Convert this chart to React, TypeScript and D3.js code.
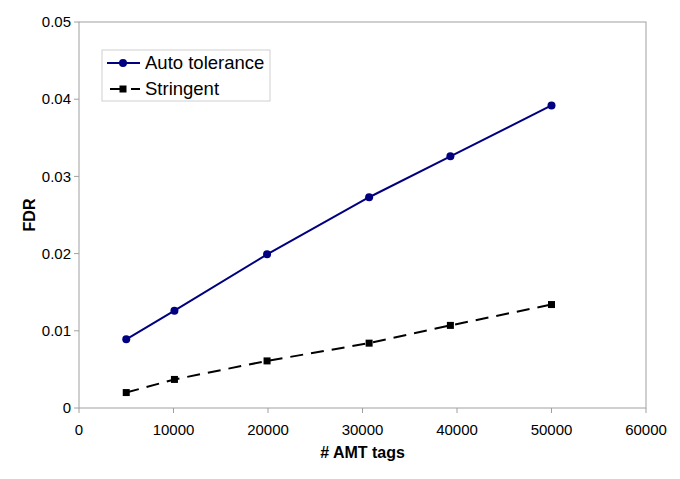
import React from 'react';
import { scaleLinear, line } from 'd3';

const xTicks = [0, 10000, 20000, 30000, 40000, 50000, 60000];
const yTicks = [0, 0.01, 0.02, 0.03, 0.04, 0.05];

const tags = [5000, 10100, 19900, 30700, 39300, 50000];
const autoTolerance = [0.0089, 0.0126, 0.0199, 0.0273, 0.0326, 0.0392];
const stringent = [0.002, 0.0037, 0.0061, 0.0084, 0.0107, 0.0134];

const width = 680;
const height = 479;
const margin = { top: 22, right: 34, bottom: 71, left: 79 };

export default function App() {
  const x = scaleLinear()
    .domain([0, 60000])
    .range([margin.left, width - margin.right]);
  const y = scaleLinear()
    .domain([0, 0.05])
    .range([height - margin.bottom, margin.top]);

  const path = line<number>()
    .x((d, i) => x(tags[i]))
    .y((d) => y(d));

  const font = 'Arial, "Liberation Sans", sans-serif';
  const bottom = height - margin.bottom;

  return (
    <svg
      width={width}
      height={height}
      style={{ position: 'absolute', left: 0, top: 0, background: '#fff' }}
      fontFamily={font}
    >
      <rect
        x={margin.left}
        y={margin.top}
        width={x(60000) - margin.left}
        height={bottom - margin.top}
        fill="none"
        stroke="#a0a0a0"
      />
      {yTicks.map((t) => (
        <g key={t}>
          <line x1={margin.left - 5} x2={margin.left} y1={y(t)} y2={y(t)} stroke="#a0a0a0" />
          <text x={margin.left - 8} y={y(t)} dy="0.35em" textAnchor="end" fontSize={15}>
            {t === 0 ? '0' : t.toFixed(2)}
          </text>
        </g>
      ))}
      {xTicks.map((t) => (
        <g key={t}>
          <line x1={x(t)} x2={x(t)} y1={bottom} y2={bottom + 5} stroke="#a0a0a0" />
          <text x={x(t)} y={bottom + 27} textAnchor="middle" fontSize={15}>
            {t}
          </text>
        </g>
      ))}
      <text
        x={(margin.left + x(60000)) / 2}
        y={458}
        textAnchor="middle"
        fontSize={16}
        fontWeight="bold"
      >
        # AMT tags
      </text>
      <text
        transform={`translate(35, ${(margin.top + bottom) / 2}) rotate(-90)`}
        textAnchor="middle"
        fontSize={16}
        fontWeight="bold"
      >
        FDR
      </text>

      <path d={path(autoTolerance) || ''} fill="none" stroke="#000080" strokeWidth={2} />
      {autoTolerance.map((v, i) => (
        <circle key={i} cx={x(tags[i])} cy={y(v)} r={4} fill="#000080" />
      ))}
      <path
        d={path(stringent) || ''}
        fill="none"
        stroke="#000"
        strokeWidth={2}
        strokeDasharray="13 8"
      />
      {stringent.map((v, i) => (
        <rect key={i} x={x(tags[i]) - 3.5} y={y(v) - 3.5} width={7} height={7} fill="#000" />
      ))}

      <g>
        <rect x={102} y={50} width={168} height={51} fill="#fff" stroke="#d0d0d0" />
        <line x1={107} x2={140} y1={63} y2={63} stroke="#000080" strokeWidth={2} />
        <circle cx={123} cy={63} r={4} fill="#000080" />
        <text x={145} y={63} dy="0.35em" fontSize={18.5}>
          Auto tolerance
        </text>
        <line x1={107} x2={140} y1={89} y2={89} stroke="#000" strokeWidth={2} strokeDasharray="13 8" strokeDashoffset={-3} />
        <rect x={119.5} y={85.5} width={7} height={7} fill="#000" />
        <text x={145} y={89} dy="0.35em" fontSize={18.5}>
          Stringent
        </text>
      </g>
    </svg>
  );
}
